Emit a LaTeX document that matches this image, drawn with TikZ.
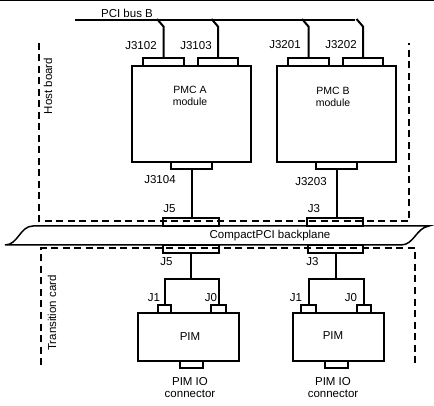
\documentclass[tikz,border=0pt]{standalone}
\usepackage{fontspec}
\setmainfont{Liberation Sans}
\usetikzlibrary{positioning}

\begin{document}
\begin{tikzpicture}[x=1pt,y=-1pt,line width=2pt,
    font=\fontsize{11.5}{12}\selectfont,
    conn/.style={draw,rectangle,inner sep=0pt},
    board/.style={draw,rectangle,inner sep=0pt,minimum width=#1,minimum height=96pt},
    card/.style={dashed,dash pattern=on 7pt off 4.5pt},
    txt/.style={inner sep=0pt,align=center}]
    \useasboundingbox (0,0) rectangle (434,406);
    \draw[line width=1pt] (0,0.5) -- (434,0.5);

    % PCI bus
    \coordinate (busL) at (75,20);
    \coordinate (busR) at (355,20);
    \draw (busL) -- (busR);
    \node[txt] (bus) at (127,13) {PCI bus B};

    % host board
    \node[board=119pt] (pmcA) at (191.5,114) {};
    \node[board=119pt] (pmcB) at (336.5,114) {};
    \node[txt,font=\fontsize{10.5}{12}\selectfont] (pmcAt) at (190,96) {PMC A\\module};
    \node[txt,font=\fontsize{10.5}{12}\selectfont] (pmcBt) at (333,97) {PMC B\\module};
    \node[conn,minimum width=41pt,minimum height=8pt] (cA1) at (163.5,62) {};
    \node[conn,minimum width=40pt,minimum height=8pt] (cA2) at (218,62) {};
    \node[conn,minimum width=41pt,minimum height=7pt] (cA3) at (191.5,165.5) {};
    \node[conn,minimum width=41pt,minimum height=8pt] (cB1) at (308.5,62) {};
    \node[conn,minimum width=40pt,minimum height=8pt] (cB2) at (363,62) {};
    \node[conn,minimum width=41pt,minimum height=7pt] (cB3) at (336.5,165.5) {};
    \node[txt] (lA1) at (141,46) {J3102};
    \node[txt] (lA2) at (196,46) {J3103};
    \node[txt] (lB1) at (285,45) {J3201};
    \node[txt] (lB2) at (341,45) {J3202};
    \node[txt] (lA3) at (160,180) {J3104};
    \node[txt] (lB3) at (311,182) {J3203};

    \foreach \c in {cA1,cA2,cB1,cB2}
        \draw (\c.north) -- ++(0,-30.5) -- ++(-6.5,-7.5);

    \draw[card] (39,43) |- (409,221.5) -- (409,43);
    \node[txt,rotate=90] (host) at (48,86) {Host board};

    % backplane
    \draw[line width=1.5pt] (5,245) .. controls (18,245) and (20,226) .. (33,226)
        -- (429,226) .. controls (416,228) and (414,245) .. (401,245) -- cycle;
    \node[txt] (bp) at (270,236) {CompactPCI backplane};
    \node[conn,minimum width=56pt,minimum height=8pt] (bA) at (190.5,222) {};
    \node[conn,minimum width=56pt,minimum height=8pt] (bB) at (335,222) {};
    \node[conn,minimum width=56pt,minimum height=8pt] (tA) at (191,249) {};
    \node[conn,minimum width=55pt,minimum height=8pt] (tB) at (335.5,249) {};
    \node[txt] (lbA) at (169.5,209) {J5};
    \node[txt] (lbB) at (314,209) {J3};
    \node[txt] (ltA) at (166.5,262) {J5};
    \node[txt] (ltB) at (312.5,262) {J3};
    \draw (cA3.south) -- (cA3.south |- bA.north);
    \draw (cB3.south) -- (cB3.south |- bB.north);

    % transition card
    \draw[card] (41,365) |- (415,248.5) -- (415,365);
    \node[txt,rotate=90] (trans) at (52,313) {Transition card};

    \node[draw,rectangle,inner sep=0pt,minimum width=101pt,minimum height=48pt] (pimA) at (188.5,337) {};
    \node[draw,rectangle,inner sep=0pt,minimum width=91pt,minimum height=48pt] (pimB) at (338.5,337) {};
    \node[txt] (pimAt) at (190,337) {PIM};
    \node[txt] (pimBt) at (333,336) {PIM};
    \node[conn,minimum width=13pt,minimum height=8pt] (pA1) at (164.5,309) {};
    \node[conn,minimum width=15pt,minimum height=8pt] (pA0) at (218.5,309) {};
    \node[conn,minimum width=23pt,minimum height=7pt] (pAio) at (191.5,364.5) {};
    \node[conn,minimum width=15pt,minimum height=8pt] (pB1) at (308.5,309) {};
    \node[conn,minimum width=14pt,minimum height=8pt] (pB0) at (364,309) {};
    \node[conn,minimum width=23pt,minimum height=7pt] (pBio) at (336.5,364.5) {};
    \node[txt] (lpA1) at (154,298) {J1};
    \node[txt] (lpA0) at (211,298) {J0};
    \node[txt] (lpB1) at (296,298) {J1};
    \node[txt] (lpB0) at (351,298) {J0};
    \node[txt] (ioA) at (190,388) {PIM IO\\connector};
    \node[txt] (ioB) at (333,388) {PIM IO\\connector};

    \coordinate (jA) at (tA.south |- 0,279);
    \coordinate (jB) at (tB.south |- 0,279);
    \draw (tA.south) -- (jA);
    \draw (tB.south) -- (jB);
    \draw (pA1.north) |- (jA) -| (pA0.north);
    \draw (pB1.north) |- (jB) -| (pB0.north);
\end{tikzpicture}
\end{document}
